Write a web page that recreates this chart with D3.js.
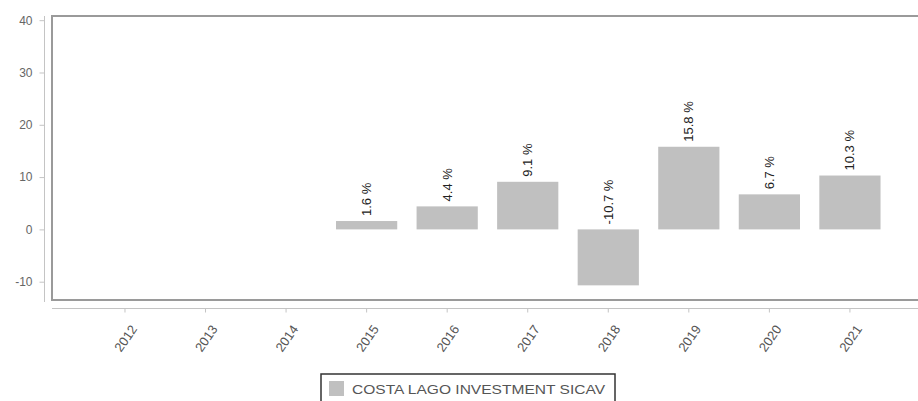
<!DOCTYPE html>
<html>
<head>
<meta charset="utf-8">
<script src="https://cdn.jsdelivr.net/npm/d3@7"></script>
<style>
  html, body { margin: 0; padding: 0; background: #fff; }
  svg { display: block; font-family: "Liberation Sans", Arial, sans-serif; }
</style>
</head>
<body>
<svg id="chart" width="918" height="401"></svg>
<script>
// Annual performance, % per year
const years   = ['2012', '2013', '2014', '2015', '2016', '2017', '2018', '2019', '2020', '2021'];
const returns = [null, null, null, 1.6, 4.4, 9.1, -10.7, 15.8, 6.7, 10.3];
const yTicks  = [-10, 0, 10, 20, 30, 40];
const seriesName = 'COSTA LAGO INVESTMENT SICAV';

const W = 918, H = 401;
const FRAME = { left: 52, top: 16, bottom: 300 };
const BAR_COLOR = '#c0c0c0';

const svg = d3.select('#chart');

const x = d3.scaleBand()
  .domain(years)
  .range([84.7, 890.2])
  .paddingInner(0.24)
  .paddingOuter(0.12);

const y = d3.scaleLinear()
  .domain([-13.5, 40.8])
  .range([FRAME.bottom, FRAME.top]);

// ── Plot frame (no right edge, it runs off the picture) ──
svg.append('path')
  .attr('d', `M${W + 2},${FRAME.top} H${FRAME.left} V${FRAME.bottom} H${W + 2}`)
  .attr('fill', 'none')
  .attr('stroke', '#9a9a9a')
  .attr('stroke-width', 2);

// ── Y axis, detached to the left of the frame ──
const yAxis = svg.append('g')
  .attr('transform', 'translate(44.5,0)')
  .call(d3.axisLeft(y).tickValues(yTicks).tickSize(5).tickPadding(7).tickSizeOuter(0));
yAxis.select('.domain').attr('stroke', '#c4c4c4').attr('d', `M0,${FRAME.top}V${FRAME.bottom + 2}`);
yAxis.selectAll('.tick line').attr('stroke', '#c4c4c4');
yAxis.selectAll('.tick text')
  .attr('fill', '#666').style('font-size', '12px')
  .text(d => d < 0 ? '-' + Math.abs(d) : d);

// ── X axis, detached below the frame ──
const xAxis = svg.append('g')
  .attr('transform', 'translate(0,308.5)')
  .call(d3.axisBottom(x).tickSize(4).tickSizeOuter(0));
xAxis.select('.domain').attr('stroke', '#c4c4c4').attr('d', `M${FRAME.left},0H${W}`);
xAxis.selectAll('.tick line').attr('stroke', '#c4c4c4');
xAxis.selectAll('.tick text')
  .attr('fill', '#555').style('font-size', '13px')
  .attr('text-anchor', 'end')
  .attr('transform', 'translate(9,18) rotate(-55)')
  .attr('x', 0).attr('y', 0).attr('dy', '0.35em');

// ── Bars ──
const data = years.map((yr, i) => ({ year: yr, value: returns[i] })).filter(d => d.value !== null);

svg.append('g').selectAll('rect')
  .data(data).join('rect')
  .attr('x', d => x(d.year))
  .attr('width', x.bandwidth())
  .attr('y', d => y(Math.max(0, d.value)))
  .attr('height', d => Math.abs(y(d.value) - y(0)))
  .attr('fill', BAR_COLOR);

// ── Value labels, vertical, above the bar top (or above zero for negatives) ──
svg.append('g').selectAll('text')
  .data(data).join('text')
  .attr('transform', d => {
    const cx = x(d.year) + x.bandwidth() / 2;
    const ty = y(Math.max(0, d.value)) - 5;
    return `translate(${cx},${ty}) rotate(-90)`;
  })
  .attr('dy', '0.35em')
  .attr('fill', '#222')
  .style('font-size', '13px')
  .text(d => `${d.value.toFixed(1)} %`);

// ── Legend ──
const legend = svg.append('g').attr('transform', 'translate(321,374)');
legend.append('rect')
  .attr('width', 294).attr('height', 34)
  .attr('fill', '#fff').attr('stroke', '#333').attr('stroke-width', 1.5);
legend.append('rect')
  .attr('x', 8).attr('y', 7).attr('width', 15).attr('height', 15)
  .attr('fill', BAR_COLOR);
legend.append('text')
  .attr('x', 31).attr('y', 20)
  .attr('fill', '#555')
  .style('font-size', '13px')
  .attr('textLength', 253).attr('lengthAdjust', 'spacingAndGlyphs')
  .text(seriesName);
</script>
</body>
</html>
